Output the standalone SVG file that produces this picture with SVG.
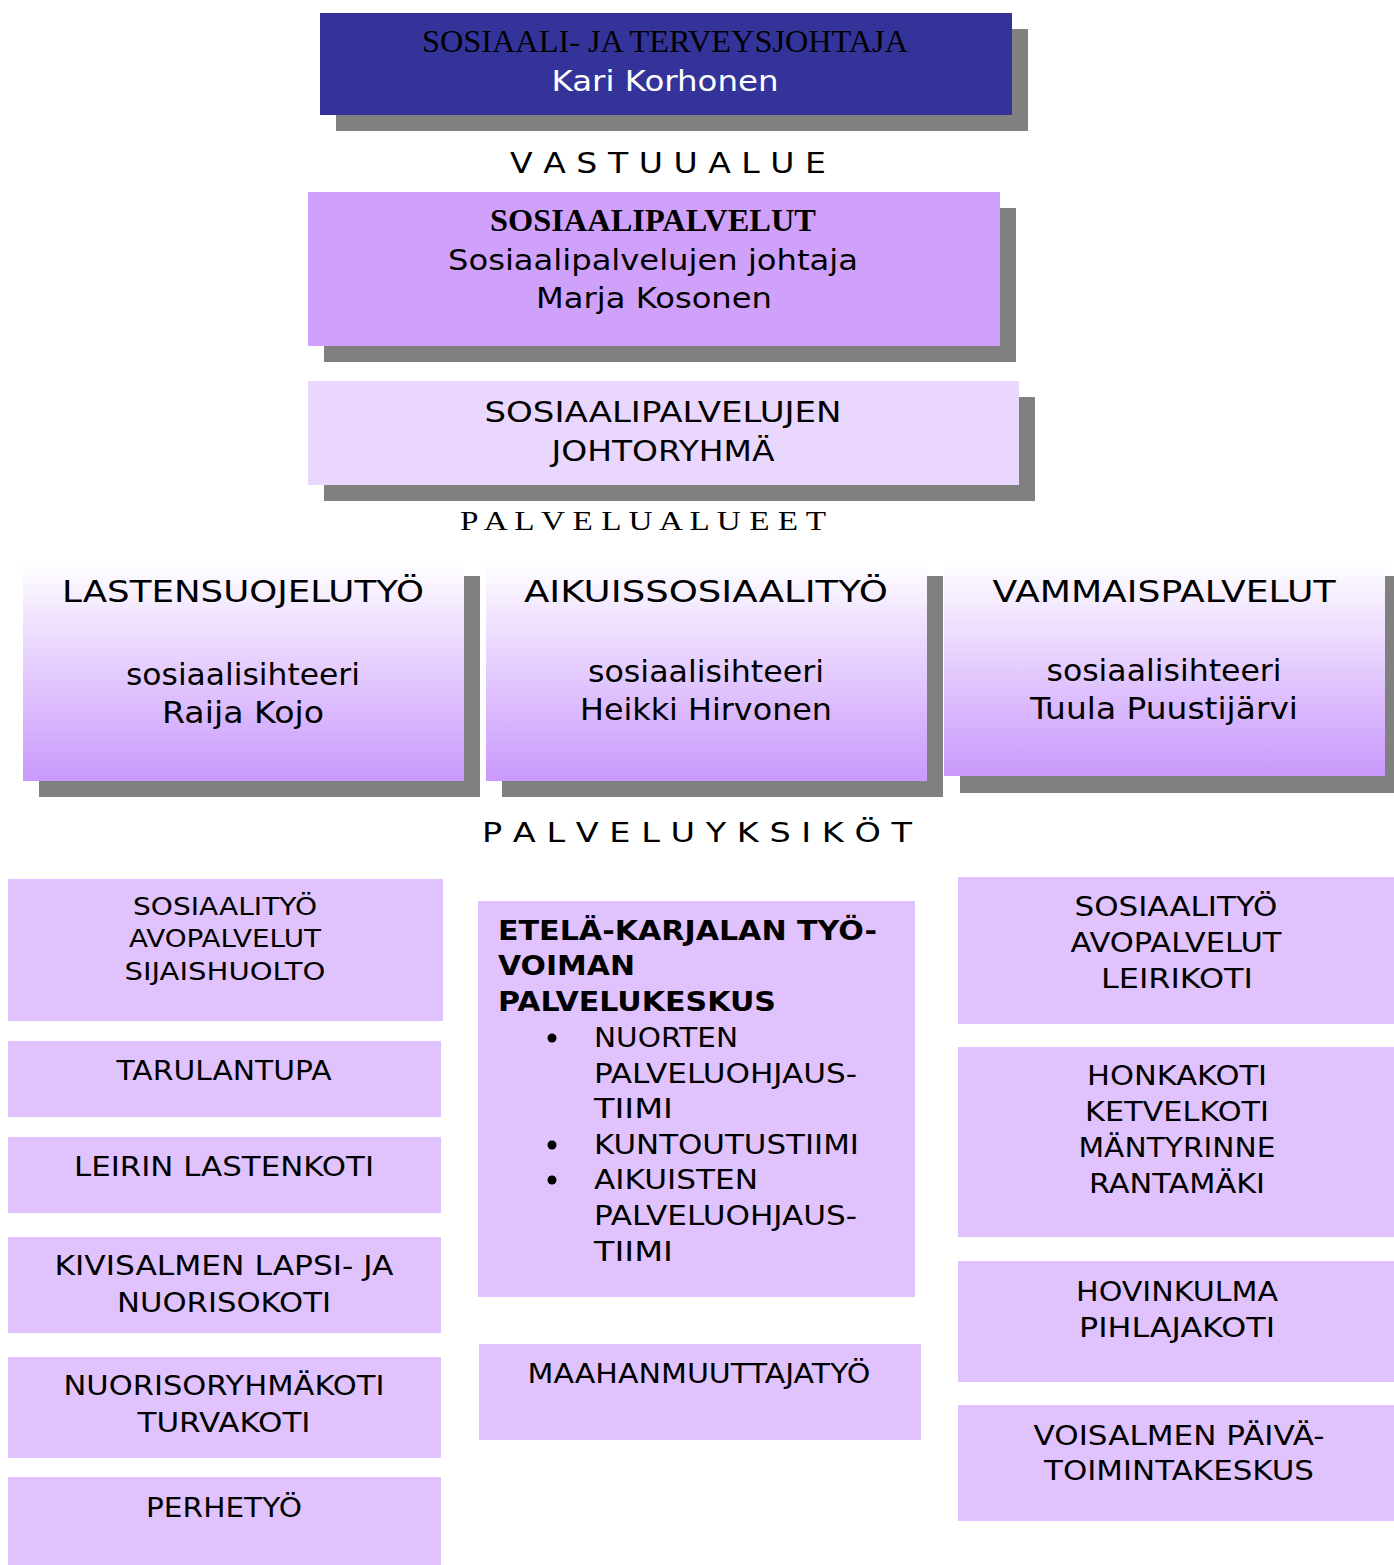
<svg xmlns="http://www.w3.org/2000/svg" width="1394" height="1565" viewBox="0 0 1394 1565">
<defs>
<linearGradient id="gv" x1="0" y1="0" x2="0" y2="1">
<stop offset="0" stop-color="#FFFFFF"/>
<stop offset="1" stop-color="#C999FC"/>
</linearGradient>
<style>
.sh{fill:#808080}
.unit{fill:#E0C3FD}
.s{font-family:"DejaVu Sans","Liberation Sans",sans-serif;fill:#000}
.m{text-anchor:middle}
.serif{font-family:"Liberation Serif","DejaVu Serif",serif;fill:#000}
</style>
</defs>
<rect width="1394" height="1565" fill="#FFFFFF"/>

<g id="director">
<rect class="sh" x="336" y="29" width="692" height="102"/>
<rect x="320" y="13" width="692" height="102" fill="#333399"/>
<text class="serif m" x="665" y="52" font-size="32" textLength="486" lengthAdjust="spacingAndGlyphs">SOSIAALI- JA TERVEYSJOHTAJA</text>
<text class="s m" x="665" y="91" font-size="28" fill="#FFFFFF" style="fill:#fff" textLength="227" lengthAdjust="spacingAndGlyphs">Kari Korhonen</text>
</g>

<text id="lbl-vastuualue" class="s m" x="668" y="173" font-size="28" textLength="316" lengthAdjust="spacingAndGlyphs">V A S T U U A L U E</text>

<g id="sosiaalipalvelut">
<rect class="sh" x="324" y="208" width="692" height="154"/>
<rect x="308" y="192" width="692" height="154" fill="#D0A1FB"/>
<text class="serif m" x="653" y="231" font-size="31" font-weight="bold" textLength="326" lengthAdjust="spacingAndGlyphs">SOSIAALIPALVELUT</text>
<text class="s m" x="653" y="270" font-size="29" textLength="410" lengthAdjust="spacingAndGlyphs">Sosiaalipalvelujen johtaja</text>
<text class="s m" x="654" y="308" font-size="29" textLength="236" lengthAdjust="spacingAndGlyphs">Marja Kosonen</text>
</g>

<g id="johtoryhma">
<rect class="sh" x="324" y="397" width="711" height="104"/>
<rect x="308" y="381" width="711" height="104" fill="#EAD7FD"/>
<text class="s m" x="663" y="422" font-size="29" textLength="357" lengthAdjust="spacingAndGlyphs">SOSIAALIPALVELUJEN</text>
<text class="s m" x="663" y="461" font-size="29" textLength="223" lengthAdjust="spacingAndGlyphs">JOHTORYHMÄ</text>
</g>

<text id="lbl-palvelualueet" class="serif m" x="643" y="530" font-size="28" textLength="366" lengthAdjust="spacingAndGlyphs">P A L V E L U A L U E E T</text>

<g id="lastensuojelu">
<rect class="sh" x="39" y="576" width="441" height="221"/>
<rect x="23" y="560" width="441" height="221" fill="url(#gv)"/>
<text class="s m" x="243" y="602" font-size="31" textLength="362" lengthAdjust="spacingAndGlyphs">LASTENSUOJELUTYÖ</text>
<text class="s m" x="243" y="685" font-size="30" textLength="234" lengthAdjust="spacingAndGlyphs">sosiaalisihteeri</text>
<text class="s m" x="243" y="723" font-size="30" textLength="162" lengthAdjust="spacingAndGlyphs">Raija Kojo</text>
</g>

<g id="aikuissosiaalityo">
<rect class="sh" x="502" y="576" width="441" height="221"/>
<rect x="486" y="560" width="441" height="221" fill="url(#gv)"/>
<text class="s m" x="706" y="602" font-size="31" textLength="364" lengthAdjust="spacingAndGlyphs">AIKUISSOSIAALITYÖ</text>
<text class="s m" x="706" y="682" font-size="30" textLength="236" lengthAdjust="spacingAndGlyphs">sosiaalisihteeri</text>
<text class="s m" x="706" y="720" font-size="30" textLength="252" lengthAdjust="spacingAndGlyphs">Heikki Hirvonen</text>
</g>

<g id="vammaispalvelut">
<rect class="sh" x="960" y="576" width="441" height="217"/>
<rect x="944" y="560" width="441" height="216" fill="url(#gv)"/>
<text class="s m" x="1164" y="602" font-size="31" textLength="343" lengthAdjust="spacingAndGlyphs">VAMMAISPALVELUT</text>
<text class="s m" x="1164" y="681" font-size="30" textLength="235" lengthAdjust="spacingAndGlyphs">sosiaalisihteeri</text>
<text class="s m" x="1164" y="719" font-size="30" textLength="268" lengthAdjust="spacingAndGlyphs">Tuula Puustijärvi</text>
</g>

<text id="lbl-palveluyksikot" class="s m" x="697" y="842" font-size="27" textLength="430" lengthAdjust="spacingAndGlyphs">P A L V E L U Y K S I K Ö T</text>

<g id="l1">
<rect class="unit" x="8" y="879" width="435" height="142"/>
<text class="s m" x="225" y="915" font-size="24" textLength="184" lengthAdjust="spacingAndGlyphs">SOSIAALITYÖ</text>
<text class="s m" x="225" y="947" font-size="24" textLength="192" lengthAdjust="spacingAndGlyphs">AVOPALVELUT</text>
<text class="s m" x="225" y="980" font-size="24" textLength="201" lengthAdjust="spacingAndGlyphs">SIJAISHUOLTO</text>
</g>
<g id="l2">
<rect class="unit" x="8" y="1041" width="433" height="76"/>
<text class="s m" x="224" y="1080" font-size="27" textLength="215" lengthAdjust="spacingAndGlyphs">TARULANTUPA</text>
</g>
<g id="l3">
<rect class="unit" x="8" y="1137" width="433" height="76"/>
<text class="s m" x="224" y="1176" font-size="27" textLength="300" lengthAdjust="spacingAndGlyphs">LEIRIN LASTENKOTI</text>
</g>
<g id="l4">
<rect class="unit" x="8" y="1237" width="433" height="96"/>
<text class="s m" x="224" y="1275" font-size="27" textLength="339" lengthAdjust="spacingAndGlyphs">KIVISALMEN LAPSI- JA</text>
<text class="s m" x="224" y="1312" font-size="27" textLength="214" lengthAdjust="spacingAndGlyphs">NUORISOKOTI</text>
</g>
<g id="l5">
<rect class="unit" x="8" y="1357" width="433" height="101"/>
<text class="s m" x="224" y="1395" font-size="27" textLength="321" lengthAdjust="spacingAndGlyphs">NUORISORYHMÄKOTI</text>
<text class="s m" x="224" y="1432" font-size="27" textLength="173" lengthAdjust="spacingAndGlyphs">TURVAKOTI</text>
</g>
<g id="l6">
<rect class="unit" x="8" y="1477" width="433" height="88"/>
<text class="s m" x="224" y="1517" font-size="27" textLength="156" lengthAdjust="spacingAndGlyphs">PERHETYÖ</text>
</g>

<g id="m1">
<rect class="unit" x="478" y="901" width="437" height="396"/>
<text class="s" x="498" y="940" font-size="27" font-weight="bold" textLength="379" lengthAdjust="spacingAndGlyphs">ETELÄ-KARJALAN TYÖ-</text>
<text class="s" x="498" y="975" font-size="27" font-weight="bold" textLength="137" lengthAdjust="spacingAndGlyphs">VOIMAN</text>
<text class="s" x="498" y="1011" font-size="27" font-weight="bold" textLength="278" lengthAdjust="spacingAndGlyphs">PALVELUKESKUS</text>
<circle cx="552" cy="1038" r="4.5" fill="#000"/>
<circle cx="552" cy="1145" r="4.5" fill="#000"/>
<circle cx="552" cy="1180" r="4.5" fill="#000"/>
<text class="s" x="594" y="1047" font-size="27" textLength="144" lengthAdjust="spacingAndGlyphs">NUORTEN</text>
<text class="s" x="594" y="1083" font-size="27" textLength="263" lengthAdjust="spacingAndGlyphs">PALVELUOHJAUS-</text>
<text class="s" x="594" y="1118" font-size="27" textLength="79" lengthAdjust="spacingAndGlyphs">TIIMI</text>
<text class="s" x="594" y="1154" font-size="27" textLength="265" lengthAdjust="spacingAndGlyphs">KUNTOUTUSTIIMI</text>
<text class="s" x="594" y="1189" font-size="27" textLength="164" lengthAdjust="spacingAndGlyphs">AIKUISTEN</text>
<text class="s" x="594" y="1225" font-size="27" textLength="263" lengthAdjust="spacingAndGlyphs">PALVELUOHJAUS-</text>
<text class="s" x="594" y="1261" font-size="27" textLength="79" lengthAdjust="spacingAndGlyphs">TIIMI</text>
</g>
<g id="m2">
<rect class="unit" x="479" y="1344" width="442" height="96"/>
<text class="s m" x="699" y="1383" font-size="27" textLength="343" lengthAdjust="spacingAndGlyphs">MAAHANMUUTTAJATYÖ</text>
</g>

<g id="r1">
<rect class="unit" x="958" y="877" width="436" height="147"/>
<text class="s m" x="1176" y="916" font-size="27" textLength="203" lengthAdjust="spacingAndGlyphs">SOSIAALITYÖ</text>
<text class="s m" x="1176" y="952" font-size="27" textLength="211" lengthAdjust="spacingAndGlyphs">AVOPALVELUT</text>
<text class="s m" x="1177" y="988" font-size="27" textLength="152" lengthAdjust="spacingAndGlyphs">LEIRIKOTI</text>
</g>
<g id="r2">
<rect class="unit" x="958" y="1047" width="436" height="190"/>
<text class="s m" x="1177" y="1085" font-size="27" textLength="180" lengthAdjust="spacingAndGlyphs">HONKAKOTI</text>
<text class="s m" x="1177" y="1121" font-size="27" textLength="184" lengthAdjust="spacingAndGlyphs">KETVELKOTI</text>
<text class="s m" x="1177" y="1157" font-size="27" textLength="197" lengthAdjust="spacingAndGlyphs">MÄNTYRINNE</text>
<text class="s m" x="1177" y="1193" font-size="27" textLength="176" lengthAdjust="spacingAndGlyphs">RANTAMÄKI</text>
</g>
<g id="r3">
<rect class="unit" x="958" y="1261" width="436" height="121"/>
<text class="s m" x="1177" y="1301" font-size="27" textLength="202" lengthAdjust="spacingAndGlyphs">HOVINKULMA</text>
<text class="s m" x="1177" y="1337" font-size="27" textLength="196" lengthAdjust="spacingAndGlyphs">PIHLAJAKOTI</text>
</g>
<g id="r4">
<rect class="unit" x="958" y="1405" width="436" height="116"/>
<text class="s m" x="1179" y="1445" font-size="27" textLength="291" lengthAdjust="spacingAndGlyphs">VOISALMEN PÄIVÄ-</text>
<text class="s m" x="1179" y="1480" font-size="27" textLength="270" lengthAdjust="spacingAndGlyphs">TOIMINTAKESKUS</text>
</g>

<g id="connectors"></g>
</svg>
